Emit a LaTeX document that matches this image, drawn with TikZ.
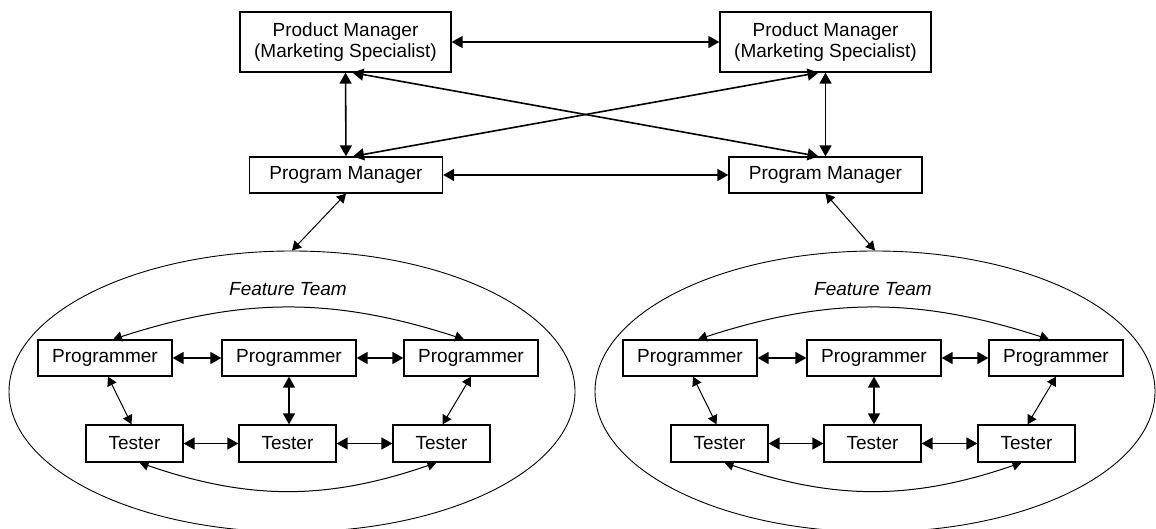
\documentclass[tikz,border=0pt]{standalone}
\usepackage{fontspec}
\setsansfont{Liberation Sans}
\usetikzlibrary{shapes.geometric, arrows.meta}

\begin{document}
\begin{tikzpicture}[
    x=0.5pt, y=-0.5pt,
    font=\sffamily,
    every node/.style={font=\sffamily\fontsize{9.5}{10.5}\selectfont, inner sep=0pt},
    role/.style={draw, line width=0.65pt, align=center},
    manager/.style={role, minimum width=105.5pt, minimum height=30pt},
    lead/.style={role, minimum width=96.5pt, minimum height=18pt},
    coder/.style={role, minimum width=67pt, minimum height=18pt},
    tester/.style={role, minimum width=48.5pt, minimum height=18.5pt},
    team/.style={draw, ellipse, line width=0.45pt, minimum height=140.5pt},
    teamname/.style={font=\sffamily\itshape\fontsize{9.5}{10.5}\selectfont},
    link/.style={{Triangle[length=5.5pt,width=6pt]}-{Triangle[length=5.5pt,width=6pt]}, line width=0.8pt},
    thinlink/.style={{Triangle[length=4.5pt,width=5pt]}-{Triangle[length=4.5pt,width=5pt]}, line width=0.5pt}
  ]

  \useasboundingbox (0,0) rectangle (1156,529);

  % managers on top
  \node[manager] (l-prod) at (345.5,42) {Product Manager\\(Marketing Specialist)};
  \node[manager] (r-prod) at (825.5,42) {Product Manager\\(Marketing Specialist)};
  \node[lead] (l-prog) at (346,175) {Program Manager};
  \node[lead] (r-prog) at (825.5,175) {Program Manager};

  \draw[link] (l-prod) -- (r-prod);
  \draw[link] (l-prog) -- (r-prog);
  \draw[link] (l-prod.south) -- (l-prog.north);
  \draw[link] (r-prod.south) -- (r-prog.north);
  \draw[link] ([xshift=3.5pt]l-prod.south) -- ([xshift=-3.5pt]r-prog.north);
  \draw[link] ([xshift=-3.5pt]r-prod.south) -- ([xshift=3.5pt]l-prog.north);

  % one feature team under each program manager
  \foreach \s/\dx/\w/\ec in {l/0/283/292, r/585/280/290} {
    \begin{scope}[shift={(\dx,0)}]
      \node[team, minimum width=\w pt] (\s-team) at (\ec,391.5) {};
      \node[teamname] (\s-name) at (288,289) {Feature Team};

      \node[coder] (\s-p1) at (105,358) {Programmer};
      \node[coder] (\s-p2) at (289,358) {Programmer};
      \node[coder] (\s-p3) at (471,358) {Programmer};
      \node[tester] (\s-t1) at (134.5,443.5) {Tester};
      \node[tester] (\s-t2) at (287.5,443.5) {Tester};
      \node[tester] (\s-t3) at (441.5,443.5) {Tester};

      \draw[link] (\s-p1) -- (\s-p2);
      \draw[link] (\s-p2) -- (\s-p3);
      \draw[link] (\s-t1) -- (\s-t2);
      \draw[link] (\s-t2) -- (\s-t3);
      \draw[link] (\s-p2.south) -- (\s-p2.south |- \s-t2.north);
      \draw[thinlink] ([xshift=1.5pt]\s-p1.south) -- ([xshift=-1.5pt]\s-t1.north);
      \draw[thinlink] (\s-p3.south) -- ([xshift=0.5pt]\s-t3.north);
      \draw[thinlink] ([xshift=4pt]\s-p1.north) to[bend left=18] ([xshift=-3.5pt]\s-p3.north);
      \draw[thinlink] ([xshift=2.5pt]\s-t1.south) to[bend right=19] ([xshift=-2.5pt]\s-t3.south);
    \end{scope}
    \draw[thinlink] (\s-prog.south) -- (\s-team.north);
  }

\end{tikzpicture}
\end{document}
